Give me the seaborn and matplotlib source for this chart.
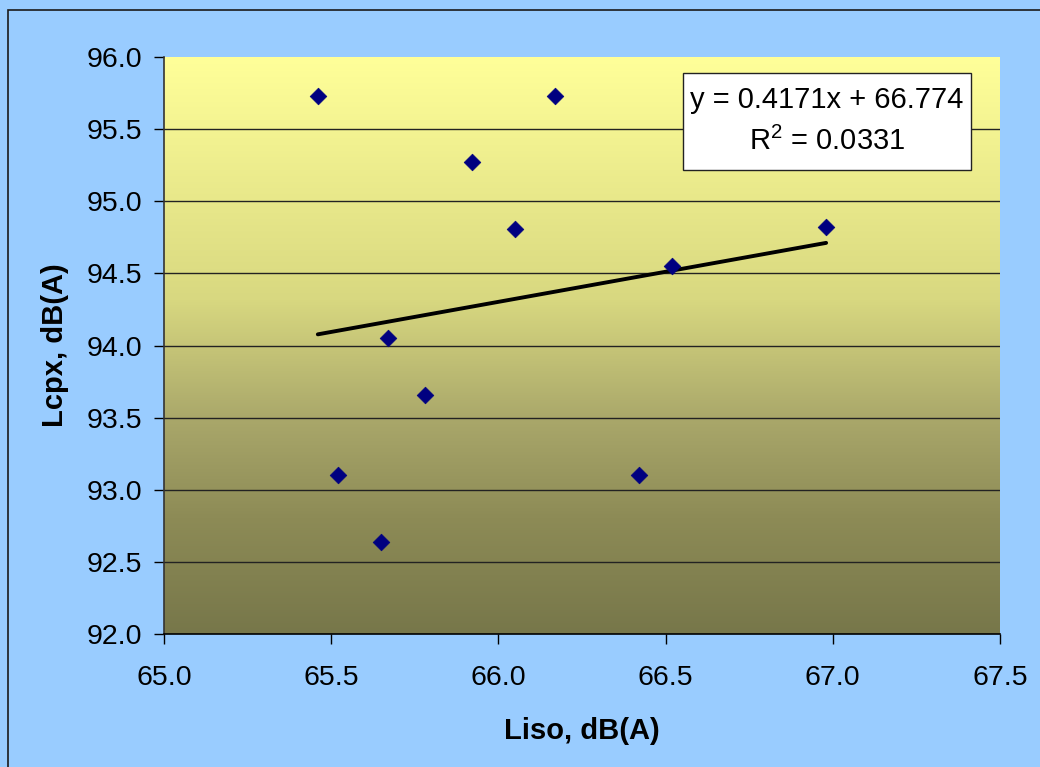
import numpy as np
import pandas as pd
import matplotlib
matplotlib.use("Agg")
import matplotlib.pyplot as plt
from matplotlib.patches import Rectangle
from matplotlib.colors import LinearSegmentedColormap
import seaborn as sns

# Measured levels
liso = [65.46, 66.17, 65.92, 66.05, 66.98, 66.52, 65.67, 65.78, 65.52, 66.42, 65.65]
lcpx = [95.73, 95.73, 95.27, 94.81, 94.82, 94.55, 94.05, 93.66, 93.10, 93.10, 92.64]

# Linear trend (as reported)
slope = 0.4171
intercept = 66.774
r_squared = 0.0331

x_ticks = [65.0, 65.5, 66.0, 66.5, 67.0, 67.5]
y_ticks = [92.0, 92.5, 93.0, 93.5, 94.0, 94.5, 95.0, 95.5, 96.0]

sns.set_style("white")
plt.rcParams["font.family"] = ["Liberation Sans", "DejaVu Sans"]
plt.rcParams["text.color"] = "black"
plt.rcParams["axes.labelcolor"] = "black"

df = pd.DataFrame({"Liso": liso, "Lcpx": lcpx})

fig = plt.figure(figsize=(10.4, 7.67), dpi=100)
fig.patch.set_facecolor("#99CCFF")

# Outer chart-area frame
fig.patches.append(Rectangle((8 / 1040, -0.05), 1.2, 1 - 10 / 767 + 0.05,
                             transform=fig.transFigure, fill=False,
                             edgecolor="#1a1a1a", linewidth=1.2, zorder=0))

ax = fig.add_axes([164 / 1040, 133 / 767, 836 / 1040, 577 / 767])
ax.patch.set_visible(False)

# Vertical gradient fill of the plot area (olive at the bottom, pale yellow on top)
cmap = LinearSegmentedColormap.from_list(
    "plotbg",
    [(0.0, "#77774A"), (0.2, "#8D8B56"), (0.37, "#A9A76A"),
     (0.58, "#D8D880"), (1.0, "#FFFF99")])
grad = np.linspace(0, 1, 256).reshape(-1, 1)
ax.imshow(grad, cmap=cmap, origin="lower", aspect="auto",
          extent=[0, 1, 0, 1], transform=ax.transAxes, zorder=0)

# Horizontal gridlines
for yv in y_ticks[1:-1]:
    ax.axhline(yv, color="#222222", linewidth=1.0, zorder=0.5)

sns.scatterplot(data=df, x="Liso", y="Lcpx", ax=ax, marker="D", s=72,
                color="#000080", edgecolor="#000080", linewidth=0.5, zorder=3)

# Trendline over the range of the data
xl = np.array([min(liso), max(liso)])
ax.plot(xl, slope * xl + intercept, color="black", linewidth=2.8,
        solid_capstyle="round", zorder=2)

ax.set_xlim(65.0, 67.5)
ax.set_ylim(92.0, 96.0)
ax.set_xticks(x_ticks)
ax.set_yticks(y_ticks)
ax.set_xticklabels([f"{v:.1f}" for v in x_ticks])
ax.set_yticklabels([f"{v:.1f}" for v in y_ticks])
ax.tick_params(axis="both", direction="out", length=7, width=1.0,
               colors="black", labelsize=20.5)
ax.tick_params(axis="x", pad=15)
ax.tick_params(axis="y", pad=9)
ax.xaxis.set_ticks_position("bottom")
ax.yaxis.set_ticks_position("left")

for side in ["top", "right"]:
    ax.spines[side].set_visible(False)
ax.spines["bottom"].set_color("black")
ax.spines["bottom"].set_linewidth(1.2)
ax.spines["left"].set_color("#333333")
ax.spines["left"].set_linewidth(1.2)

ax.set_xlabel("Liso, dB(A)", fontsize=21, fontweight="bold", labelpad=19,
              color="black")
ax.set_ylabel("Lcpx, dB(A)", fontsize=21, fontweight="bold", labelpad=12,
              color="black")

# Trendline equation box
ax.add_patch(Rectangle((0.6208, 0.8042), 0.3445, 0.1681, transform=ax.transAxes,
                       facecolor="white", edgecolor="#222222", linewidth=1.0,
                       zorder=4))
ax.text(0.793, 0.889,
        f"y = {slope:.4f}x + {intercept:.3f}\n$\\mathregular{{R^2}}$ = {r_squared:.4f}",
        transform=ax.transAxes, ha="center", va="center", fontsize=21,
        linespacing=1.55, color="black", zorder=5)

fig.savefig("out.png", dpi=100, facecolor=fig.get_facecolor())
